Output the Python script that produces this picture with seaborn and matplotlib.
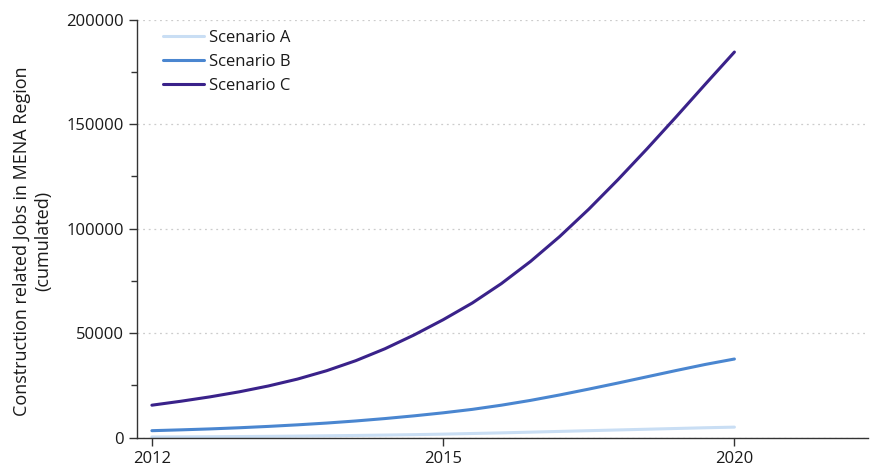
import matplotlib
matplotlib.use('Agg')
import matplotlib.pyplot as plt
import matplotlib.ticker as mticker
import pandas as pd
import seaborn as sns

# ── Data ──────────────────────────────────────────────────────────────────
# x is an ordinal position: 0 = 2012, 1 = 2015, 2 = 2020
x_pos = [0.0, 0.1, 0.2, 0.3, 0.4, 0.5, 0.6, 0.7, 0.8, 0.9, 1.0,
         1.1, 1.2, 1.3, 1.4, 1.5, 1.6, 1.7, 1.8, 1.9, 2.0]
tick_pos = [0, 1, 2]
tick_labels = ['2012', '2015', '2020']

scenario_a = [300, 350, 420, 500, 600, 720, 860, 1020, 1200, 1400, 1650,
              1950, 2250, 2600, 2950, 3300, 3650, 4000, 4350, 4700, 5000]
scenario_b = [3300, 3700, 4150, 4700, 5350, 6100, 6950, 7950, 9100, 10400, 11850,
              13500, 15500, 17800, 20400, 23200, 26100, 29100, 32100, 35000, 37600]
scenario_c = [15500, 17400, 19500, 21900, 24700, 28000, 32000, 36800, 42500, 49100, 56400,
              64400, 73700, 84300, 96200, 109300, 123400, 138200, 153500, 169100, 184500]

names = ['Scenario A', 'Scenario B', 'Scenario C']
colors = ['#c9def4', '#4a86d0', '#3a228a']

df = pd.DataFrame({
    'x': x_pos * 3,
    'jobs': scenario_a + scenario_b + scenario_c,
    'scenario': [n for n in names for _ in x_pos],
})

# ── Style ─────────────────────────────────────────────────────────────────
sns.set_theme(style='white')
plt.rcParams['font.family'] = ['Open Sans', 'DejaVu Sans']
TEXT = '#1a1a1a'

fig = plt.figure(figsize=(8.71, 4.68), dpi=100)
ax = fig.add_axes([0.157, 0.065, 0.84, 0.893])

sns.lineplot(data=df, x='x', y='jobs', hue='scenario', hue_order=names,
             palette=colors, linewidth=2.2, ax=ax)

ax.set_xlim(-0.052, 2.46)
ax.set_ylim(0, 200000)
ax.set_xticks(tick_pos)
ax.set_xticklabels(tick_labels)
ax.yaxis.set_major_locator(mticker.MultipleLocator(50000))
ax.yaxis.set_minor_locator(mticker.MultipleLocator(25000))
ax.yaxis.set_major_formatter(mticker.FormatStrFormatter('%d'))

ax.grid(axis='y', which='major', linestyle=(0, (1.5, 3)), color='#cccccc', lw=0.9)
ax.grid(axis='x', visible=False)

for side in ['top', 'right']:
    ax.spines[side].set_visible(False)
for side in ['left', 'bottom']:
    ax.spines[side].set_color('#333333')
    ax.spines[side].set_linewidth(1.0)

ax.tick_params(axis='both', which='major', direction='out', length=6, width=1,
               color='#333333', labelsize=12, labelcolor=TEXT, left=True, bottom=True)
ax.tick_params(axis='y', which='minor', direction='out', length=4, width=1,
               color='#333333', left=True)

ax.set_xlabel('')
ax.set_ylabel('Construction related Jobs in MENA Region\n(cumulated)',
              fontsize=13, color=TEXT, labelpad=10)
ax.yaxis.label.set_y(0.47)

leg = ax.legend(loc='upper left', frameon=False, fontsize=12, handlelength=2.5,
                handletextpad=0.25, labelspacing=0.48, bbox_to_anchor=(0.015, 1.012))
for t in leg.get_texts():
    t.set_color(TEXT)

fig.savefig('out.png', dpi=100)
